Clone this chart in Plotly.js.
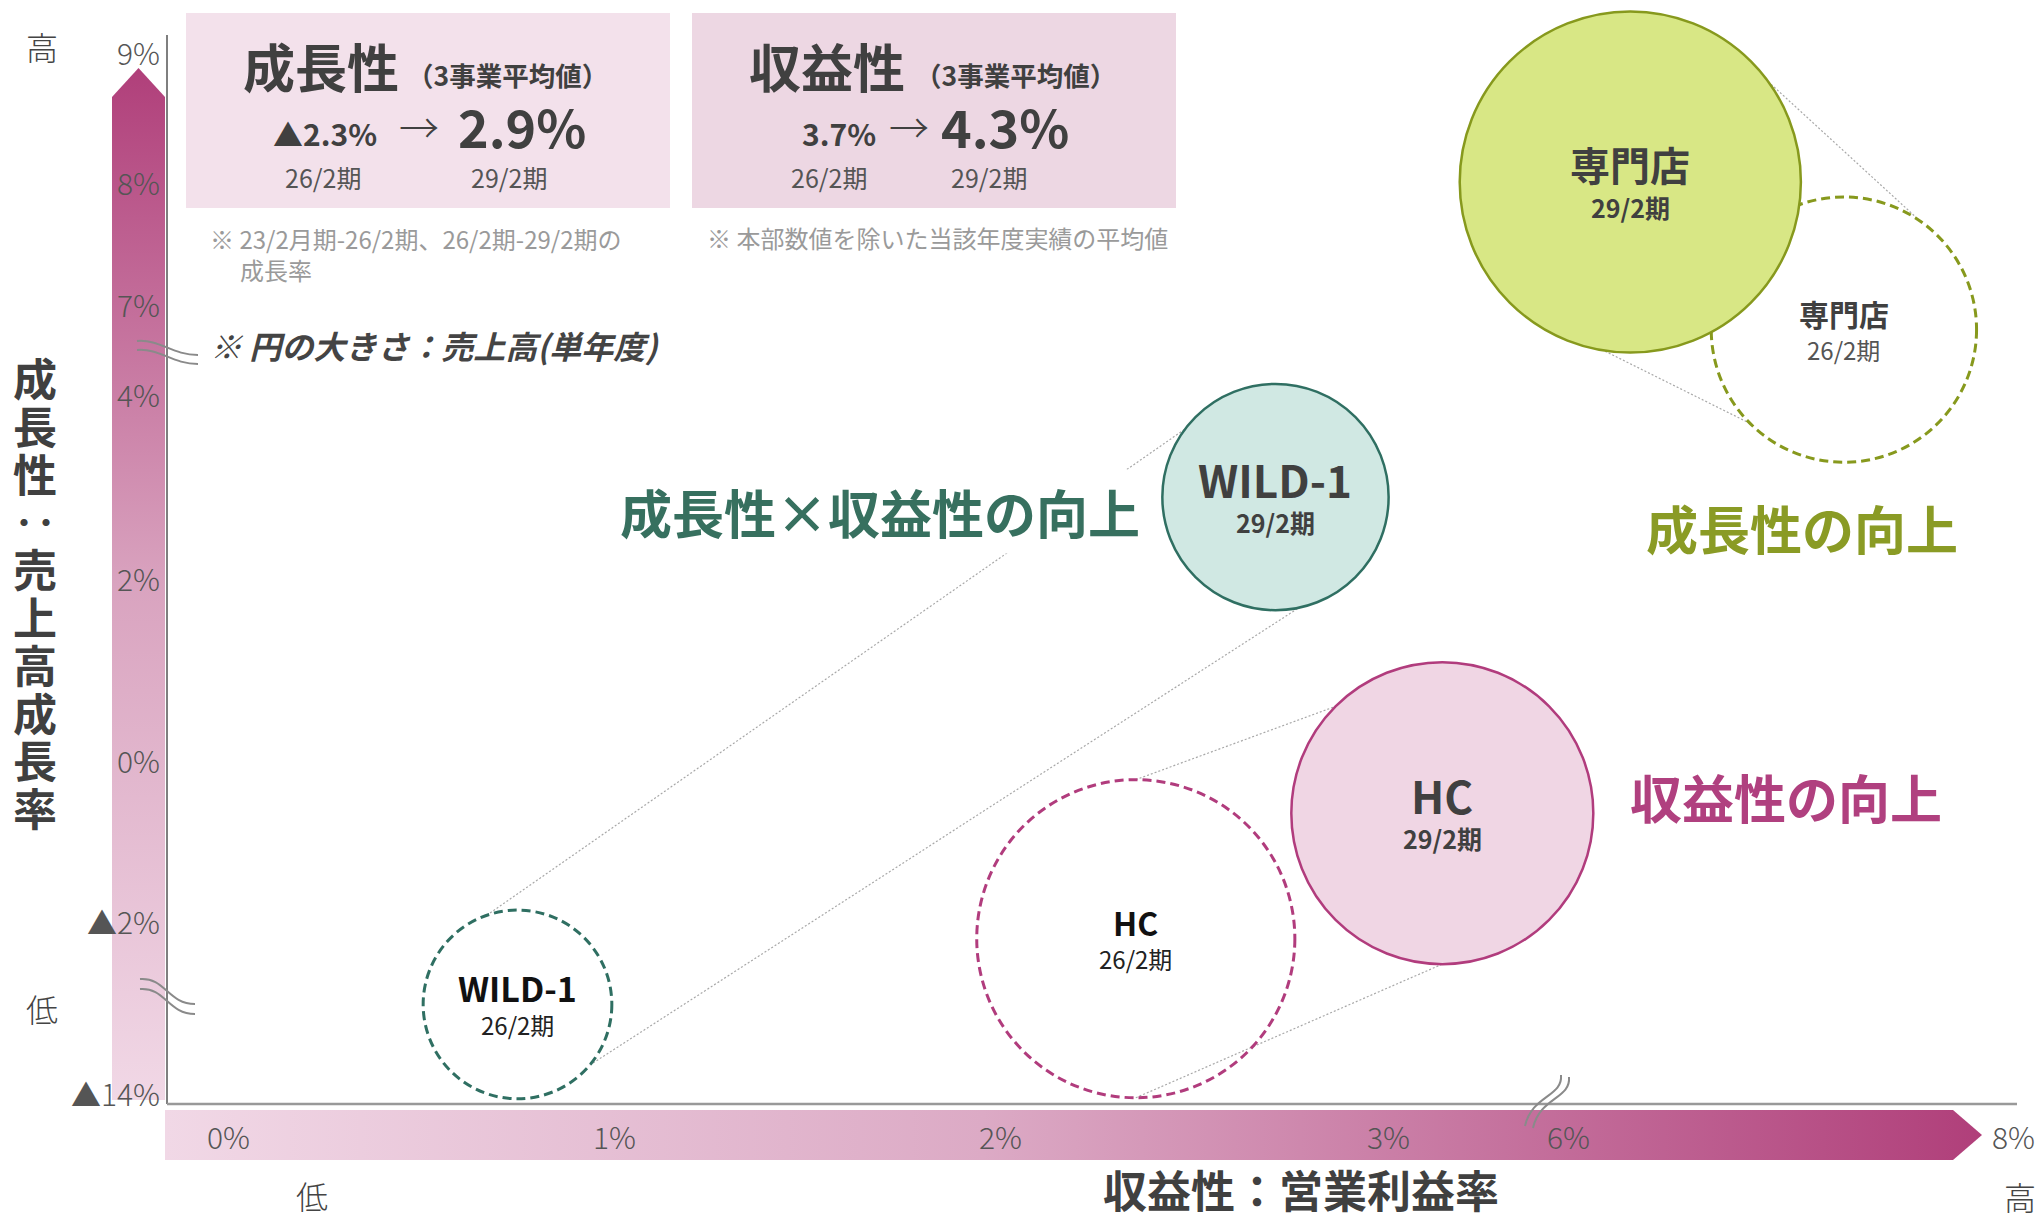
<!DOCTYPE html>
<html>
<head>
<meta charset="utf-8">
<script src="https://cdn.plot.ly/plotly-3.0.1.min.js"></script>
<style>
html,body{margin:0;padding:0;background:#fff;overflow:hidden}
#chart{width:2040px;height:1219px}
</style>
</head>
<body>
<div id="chart"></div>
<script>
// ---------------- DATA ----------------
const segments   = ['WILD-1', 'WILD-1', 'HC', 'HC', '専門店', '専門店'];
const periods    = ['26/2期', '29/2期', '26/2期', '29/2期', '26/2期', '29/2期'];
const opMargin   = [0.75, 2.71, 2.35, 3.14, 7.24, 6.28];      // 収益性：営業利益率 (%)
const salesGrowth= [-12.9, 2.88, -2.22, -0.66, 6.79, 8.0];    // 成長性：売上高成長率 (%)
const sales      = [89, 128, 253, 228, 176, 291];             // 売上高 (relative, bubble area)

const xTickVals  = [0, 1, 2, 3, 6, 8];
const xTickText  = ['0%', '1%', '2%', '3%', '6%', '8%'];
const yTickVals  = [9, 8, 7, 4, 2, 0, -2, -14];
const yTickText  = ['9%', '8%', '7%', '4%', '2%', '0%', '▲2%', '▲14%'];

const avgPeriods = ['26/2期', '29/2期'];
const avgGrowth  = ['▲2.3%', '2.9%'];
const avgMargin  = ['3.7%', '4.3%'];

// ---------------- AXIS SCALES (with axis breaks) ----------------
const W = 2040, H = 1219;
const xSegs = [
  {pts: [[0, 228], [1, 614], [2, 1000], [3, 1388]], lo: -Infinity, hi: 4.5},
  {pts: [[6, 1568], [8, 2013]], lo: 4.5, hi: Infinity}
];
const ySegs = [
  {pts: [[7, 304], [8, 182], [9, 52]], lo: 5.5, hi: Infinity},
  {pts: [[-2, 921], [0, 760], [2, 578], [4, 394]], lo: -6, hi: 5.5},
  {pts: [[-14, 1093]], slope: -80.5, lo: -Infinity, hi: -6}
];
function interp(seg, v) {
  const p = seg.pts;
  if (p.length === 1) return p[0][1] + (v - p[0][0]) * seg.slope;
  let i = 0;
  while (i < p.length - 2 && v > p[i + 1][0]) i++;
  const [v0, p0] = p[i], [v1, p1] = p[i + 1];
  return p0 + (v - v0) * (p1 - p0) / (v1 - v0);
}
function scale(segs, v) {
  for (const s of segs) if (v >= s.lo && v < s.hi) return interp(s, v);
}
const mapX = v => scale(xSegs, v);
const mapY = v => scale(ySegs, v);
const radius = s => 10 * Math.sqrt(s);

// ---------------- STYLES ----------------
const FONT = '"Noto Sans CJK JP", "Noto Sans", sans-serif';
const DARK = '#404040';
const segStyle = {
  'WILD-1': {line: '#2f6f62', fill: '#d0e8e3'},
  'HC':     {line: '#b13c7d', fill: '#f0d6e4'},
  '専門店': {line: '#87991d', fill: '#d8e785'}
};
// connector angles (deg) on [26/2 circle, 29/2 circle]
const connAngles = {
  'WILD-1': [[109, 143], [-40, -78]],
  'HC':     [[90, 135], [-90, -90]],
  '専門店': [[55, 36], [-135, -99]]
};

function T(x, y, text, size, color, o = {}) {
  const a = {
    x, y, xref: 'x', yref: 'y', text, showarrow: false,
    font: {family: FONT, size, color, weight: o.weight || 400, style: o.style || 'normal'},
    xanchor: o.xanchor || 'center', yanchor: o.yanchor || 'middle'
  };
  if (o.yshift) a.yshift = o.yshift;
  if (o.bgcolor) { a.bgcolor = o.bgcolor; a.borderpad = o.borderpad || 0; }
  return a;
}

// ---------------- BUILD ----------------
const shapes = [];
const annotations = [];
const traces = [];

// gradient arrows (decorative axis bands)
traces.push({
  type: 'scatter', mode: 'lines', x: [112, 112, 138.5, 165, 165, 112], y: [1100, 97, 68, 97, 1100, 1100],
  fill: 'toself', line: {width: 0}, hoverinfo: 'skip',
  fillgradient: {type: 'vertical', start: 68, stop: 1100, colorscale: [[0, '#b03f7a'], [0.5, '#d9a3bf'], [1, '#f1d8e6']]}
});
traces.push({
  type: 'scatter', mode: 'lines', x: [165, 1953, 1982, 1953, 165, 165], y: [1110, 1110, 1135, 1160, 1160, 1110],
  fill: 'toself', line: {width: 0}, hoverinfo: 'skip',
  fillgradient: {type: 'horizontal', start: 165, stop: 1982, colorscale: [[0, '#f1d8e6'], [0.45, '#dcaac5'], [1, '#b03f7a']]}
});

// bubble centres
const cx = opMargin.map(mapX), cy = salesGrowth.map(mapY), rr = sales.map(radius);
traces.push({
  type: 'scatter', mode: 'markers', x: cx, y: cy,
  marker: {size: 1, opacity: 0},
  text: segments.map((s, i) => `${s} ${periods[i]}<br>営業利益率 ${opMargin[i]}%<br>売上高成長率 ${salesGrowth[i]}%`),
  hoverinfo: 'text'
});

// top boxes
shapes.push({type: 'rect', xref: 'x', yref: 'y', x0: 186, x1: 670, y0: 13, y1: 208, fillcolor: '#f3e1eb', line: {width: 0}, layer: 'below'});
shapes.push({type: 'rect', xref: 'x', yref: 'y', x0: 692, x1: 1176, y0: 13, y1: 208, fillcolor: '#edd7e3', line: {width: 0}, layer: 'below'});

// axis lines
shapes.push({type: 'line', xref: 'x', yref: 'y', x0: 167, x1: 167, y0: 35, y1: 1104, line: {color: '#555', width: 1.5}});
shapes.push({type: 'line', xref: 'x', yref: 'y', x0: 167, x1: 2017, y0: 1104, y1: 1104, line: {color: '#999', width: 2.5}});

// axis break marks
const brk = {color: '#8a8a8a', width: 2};
[
  'M137,341 C160,339 172,355 198,355', 'M137,350 C160,348 172,364 198,364',
  'M140,979 C165,977 168,1004 195,1004', 'M140,989 C165,987 168,1014 195,1014',
  'M1569,1077 C1571,1099 1540,1097 1533,1128', 'M1561,1075 C1563,1097 1532,1095 1525,1126'
].forEach(p => shapes.push({type: 'path', xref: 'x', yref: 'y', path: p, line: brk}));

// connector lines between 26/2 and 29/2
['WILD-1', 'HC', '専門店'].forEach(seg => {
  const i0 = segments.findIndex((s, i) => s === seg && periods[i] === '26/2期');
  const i1 = segments.findIndex((s, i) => s === seg && periods[i] === '29/2期');
  connAngles[seg].forEach(([a0, a1]) => {
    const r0 = a0 * Math.PI / 180, r1 = a1 * Math.PI / 180;
    shapes.push({
      type: 'line', xref: 'x', yref: 'y',
      x0: cx[i0] + rr[i0] * Math.cos(r0), y0: cy[i0] - rr[i0] * Math.sin(r0),
      x1: cx[i1] + rr[i1] * Math.cos(r1), y1: cy[i1] - rr[i1] * Math.sin(r1),
      line: {color: '#a8a8a8', width: 1.2, dash: '2px,2px'}
    });
  });
});

// bubbles: dashed (26/2) first, filled (29/2) on top
const order = [0, 2, 4, 1, 3, 5];
order.forEach(i => {
  const st = segStyle[segments[i]];
  const past = periods[i] === '26/2期';
  shapes.push({
    type: 'circle', xref: 'x', yref: 'y',
    x0: cx[i] - rr[i], x1: cx[i] + rr[i], y0: cy[i] - rr[i], y1: cy[i] + rr[i],
    fillcolor: past ? 'rgba(0,0,0,0)' : st.fill,
    line: {color: st.line, width: past ? 3 : 2.5, dash: past ? '9px,5px' : 'solid'}
  });
});

// bubble labels
const nameSize = {'WILD-1': [34, 44], 'HC': [32, 44], '専門店': [30, 40]};
segments.forEach((s, i) => {
  const past = periods[i] === '26/2期';
  const ns = nameSize[s][past ? 0 : 1];
  const col = past && s !== '専門店' ? '#111' : DARK;
  annotations.push(T(cx[i], cy[i], s, ns, col, {weight: 700, yshift: past ? 17 : 18}));
  annotations.push(T(cx[i], cy[i], periods[i], past ? 24 : 25, past ? (s === '専門店' ? '#555' : '#222') : DARK,
    {weight: past ? 400 : 700, yshift: past ? -20 : -25}));
});

// tick labels
yTickVals.forEach((v, k) => annotations.push(
  T(162, mapY(v), yTickText[k], 30, '#555', {xanchor: 'right', weight: 300})));
xTickVals.forEach((v, k) => annotations.push(
  T(mapX(v), 1136, xTickText[k], 30, '#555', {weight: 300})));

// axis titles
const yTitle = ['成', '長', '性', '‥', '売', '上', '高', '成', '長', '率'];
yTitle.forEach((c, k) => annotations.push(T(35, 377 + k * 47.8, c, 44, DARK, {weight: 700})));
annotations.push(T(1301, 1189, '収益性：営業利益率', 44, DARK, {weight: 700}));

// high / low markers
annotations.push(T(42, 46, '高', 32, '#444', {weight: 300}));
annotations.push(T(42, 1008, '低', 32, '#444', {weight: 300}));
annotations.push(T(312, 1195, '低', 32, '#444', {weight: 300}));
annotations.push(T(2020, 1196, '高', 32, '#444', {weight: 300}));

// summary boxes
annotations.push(T(321, 65, '成長性', 52, DARK, {weight: 700}));
annotations.push(T(507, 74, '（3事業平均値）', 26.5, DARK, {weight: 700}));
annotations.push(T(325, 133, avgGrowth[0], 30, DARK, {weight: 700}));
annotations.push(T(419, 126, '→', 40, DARK, {weight: 300}));
annotations.push(T(522, 125, avgGrowth[1], 52, DARK, {weight: 700}));
annotations.push(T(323, 177, avgPeriods[0], 25, '#555'));
annotations.push(T(509, 177, avgPeriods[1], 25, '#555'));

annotations.push(T(827, 65, '収益性', 52, DARK, {weight: 700}));
annotations.push(T(1015, 74, '（3事業平均値）', 26.5, DARK, {weight: 700}));
annotations.push(T(839, 133, avgMargin[0], 30, DARK, {weight: 700}));
annotations.push(T(909, 126, '→', 40, DARK, {weight: 300}));
annotations.push(T(1005, 125, avgMargin[1], 52, DARK, {weight: 700}));
annotations.push(T(829, 177, avgPeriods[0], 25, '#555'));
annotations.push(T(989, 177, avgPeriods[1], 25, '#555'));

// notes
annotations.push(T(208, 238, '※ 23/2月期-26/2期、26/2期-29/2期の', 24, '#9a9a9a', {xanchor: 'left'}));
annotations.push(T(238, 269, '成長率', 24, '#9a9a9a', {xanchor: 'left'}));
annotations.push(T(705, 237, '※ 本部数値を除いた当該年度実績の平均値', 24, '#9a9a9a', {xanchor: 'left'}));
annotations.push(T(208, 345, '※ 円の大きさ：売上高(単年度)', 32, '#444', {xanchor: 'left', weight: 700, style: 'italic'}));

// region messages
annotations.push(T(880, 511, '成長性×収益性の向上', 52, '#37705f', {weight: 700, bgcolor: '#ffffff', borderpad: 4}));
annotations.push(T(1802, 527, '成長性の向上', 52, '#8a9b25', {weight: 700}));
annotations.push(T(1786, 796, '収益性の向上', 52, '#b0407f', {weight: 700}));

const layout = {
  width: W, height: H,
  margin: {l: 0, r: 0, t: 0, b: 0},
  paper_bgcolor: '#fff', plot_bgcolor: '#fff',
  showlegend: false,
  xaxis: {range: [0, W], visible: false, fixedrange: true},
  yaxis: {range: [H, 0], visible: false, fixedrange: true},
  shapes, annotations,
  font: {family: FONT}
};
Plotly.newPlot('chart', traces, layout, {displayModeBar: false, staticPlot: true});
</script>
</body>
</html>
